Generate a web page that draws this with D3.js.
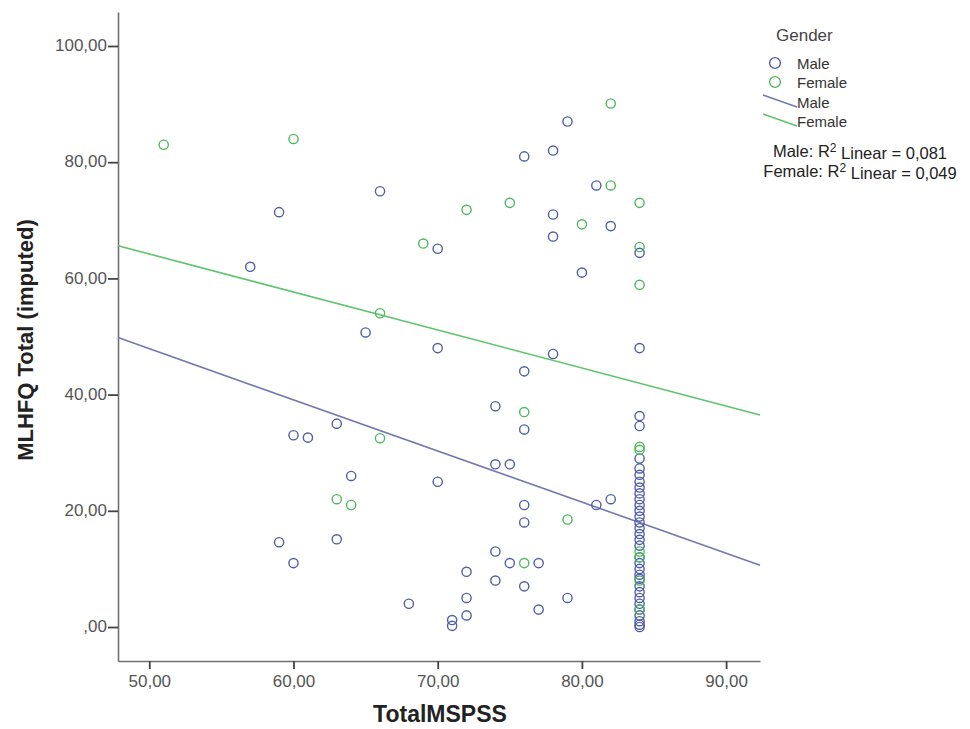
<!DOCTYPE html>
<html>
<head>
<meta charset="utf-8">
<script src="https://cdn.jsdelivr.net/npm/d3@7"></script>
<style>
  html,body{margin:0;padding:0;background:#fff;}
  #chart{width:970px;height:729px;}
  text{font-family:"Liberation Sans",Arial,sans-serif;}
</style>
</head>
<body>
<div id="chart"></div>
<script>
// MLHFQ total vs TotalMSPSS by gender
const maleMSPSS = [79,76,78,81,82,78,78,80,70,66,59,57,65,70,78,76,84,84,
  63,60,61,64,70,59,63,60,68,74,76,74,75,81,82,76,76,74,75,77,72,74,76,79,72,77,72,71,71,
  84,84,84,84,84,84,84,84,84,84,84,84,84,84,84,84,84,84,84,84,84,84,84,84,84,84,84,84,84,84,84];
const maleMLHFQ = [87,81,82,76,69,71,67.2,61,65.1,75,71.4,62,50.7,48,47,44,64.4,48,
  35,33,32.6,26,25,14.6,15.1,11,4,38,34,28,28,21,22,21,18,13,11,11,9.5,8,7,5,5,3,2,1.2,0.2,
  36.3,34.6,29,27.3,26.2,25,24,23,22,21,20,19,18,17,16,15,14,12,11,10,9,8.3,7,6,5,4,3,2,1,0.4,0];
const femaleMSPSS = [51,60,82,82,72,75,80,84,84,84,69,66,66,76,79,63,64,76,84,84,84,84,84,84];
const femaleMLHFQ = [83,84,90.1,76,71.8,73,69.3,73,65.4,58.9,66,54,32.5,37,18.5,22,21,11,31,30.5,13,12,8,3];

// linear fit lines (intercept, slope) as drawn in the picture
const fitMale = [91.9, -0.88];
const fitFemale = [96.9, -0.654];
const r2Groups = ['Male', 'Female'];
const r2Values = ['0,081', '0,049'];

const xTicks = [50,60,70,80,90];
const yTicks = [0,20,40,60,80,100];
const xDomain = [47.83, 92.35];
const yDomain = [-5.85, 105.85];

const maleColor = '#4f5ea6';
const femaleColor = '#4db85d';
const maleLine = '#7378b2';
const femaleLine = '#5cc46b';

(function(){
  const W = 970, H = 729;
  const margin = {top:12, right:210, bottom:68, left:118};
  const width = W - margin.left - margin.right;
  const height = H - margin.top - margin.bottom;

  const svg = d3.select('#chart').append('svg').attr('width',W).attr('height',H);
  const g = svg.append('g').attr('transform',`translate(${margin.left},${margin.top})`);

  const x = d3.scaleLinear().domain(xDomain).range([0,width]);
  const y = d3.scaleLinear().domain(yDomain).range([height,0]);
  const fmt = d => d === 0 ? ',00' : d3.format('.2f')(d).replace('.', ',');

  // axes
  const xAxis = g.append('g').attr('transform',`translate(0,${height})`)
    .call(d3.axisBottom(x).tickValues(xTicks).tickFormat(fmt).tickSize(8).tickSizeOuter(0));
  const yAxis = g.append('g')
    .call(d3.axisLeft(y).tickValues(yTicks).tickFormat(fmt).tickSize(10).tickSizeOuter(0));
  [xAxis, yAxis].forEach(a => {
    a.select('.domain').attr('stroke','#707070').attr('stroke-width',1.6);
    a.selectAll('.tick line').attr('stroke','#444').attr('stroke-width',1.8);
    a.selectAll('.tick text').attr('fill','#555').attr('font-size','17px')
      .attr('font-family','"Liberation Sans",Arial,sans-serif');
  });
  xAxis.selectAll('.tick text').attr('y',26).attr('dy',0);
  yAxis.selectAll('.tick text').attr('x',-11).attr('dy','0.28em');

  // fit lines
  const fitLine = f => d3.line().x(d=>x(d)).y(d=>y(f[0] + f[1]*d))(xDomain);
  g.append('path').attr('d',fitLine(fitMale)).attr('fill','none').attr('stroke',maleLine).attr('stroke-width',1.6);
  g.append('path').attr('d',fitLine(fitFemale)).attr('fill','none').attr('stroke',femaleLine).attr('stroke-width',1.6);

  // points
  const pts = (xs, ys) => xs.map((v,i)=>({x:v, y:ys[i]}));
  g.append('g').selectAll('circle').data(pts(maleMSPSS, maleMLHFQ)).enter().append('circle')
    .attr('cx',d=>x(d.x)).attr('cy',d=>y(d.y)).attr('r',4.6)
    .attr('fill','none').attr('stroke',maleColor).attr('stroke-width',1.4);
  g.append('g').selectAll('circle').data(pts(femaleMSPSS, femaleMLHFQ)).enter().append('circle')
    .attr('cx',d=>x(d.x)).attr('cy',d=>y(d.y)).attr('r',4.6)
    .attr('fill','none').attr('stroke',femaleColor).attr('stroke-width',1.4);

  // axis titles
  svg.append('text').attr('x', 440).attr('y', 722).attr('text-anchor','middle')
    .attr('font-size','23px').attr('font-weight','bold').attr('fill','#222').text('TotalMSPSS');
  svg.append('text').attr('transform',`translate(33,340) rotate(-90)`)
    .attr('text-anchor','middle').attr('font-size','22px').attr('font-weight','bold').attr('fill','#222')
    .text('MLHFQ Total (imputed)');

  // legend
  const lg = svg.append('g');
  lg.append('text').attr('x',776).attr('y',41).attr('font-size','17px').attr('fill','#444').text('Gender');
  const items = [
    {type:'c', color:maleColor, label:'Male', y:63},
    {type:'c', color:femaleColor, label:'Female', y:82},
    {type:'l', color:maleLine, label:'Male', y:102},
    {type:'l', color:femaleLine, label:'Female', y:121}
  ];
  items.forEach(it => {
    if (it.type === 'c') {
      lg.append('circle').attr('cx',775).attr('cy',it.y).attr('r',5.4)
        .attr('fill','none').attr('stroke',it.color).attr('stroke-width',1.4);
    } else {
      lg.append('line').attr('x1',763).attr('y1',it.y-7).attr('x2',797).attr('y2',it.y+5)
        .attr('stroke',it.color).attr('stroke-width',1.4);
    }
    lg.append('text').attr('x',797).attr('y',it.y+5.5).attr('font-size','15px').attr('fill','#333').text(it.label);
  });
  r2Groups.forEach((grp,i) => {
    const t = lg.append('text').attr('x',860).attr('y',157 + i*20).attr('text-anchor','middle')
      .attr('font-size','16.5px').attr('fill','#222');
    t.append('tspan').text(grp + ': R');
    t.append('tspan').attr('dy','-0.45em').attr('font-size','12px').text('2');
    t.append('tspan').attr('dy','0.45em').text(' Linear = ' + r2Values[i]);
  });
})();
</script>
</body>
</html>
